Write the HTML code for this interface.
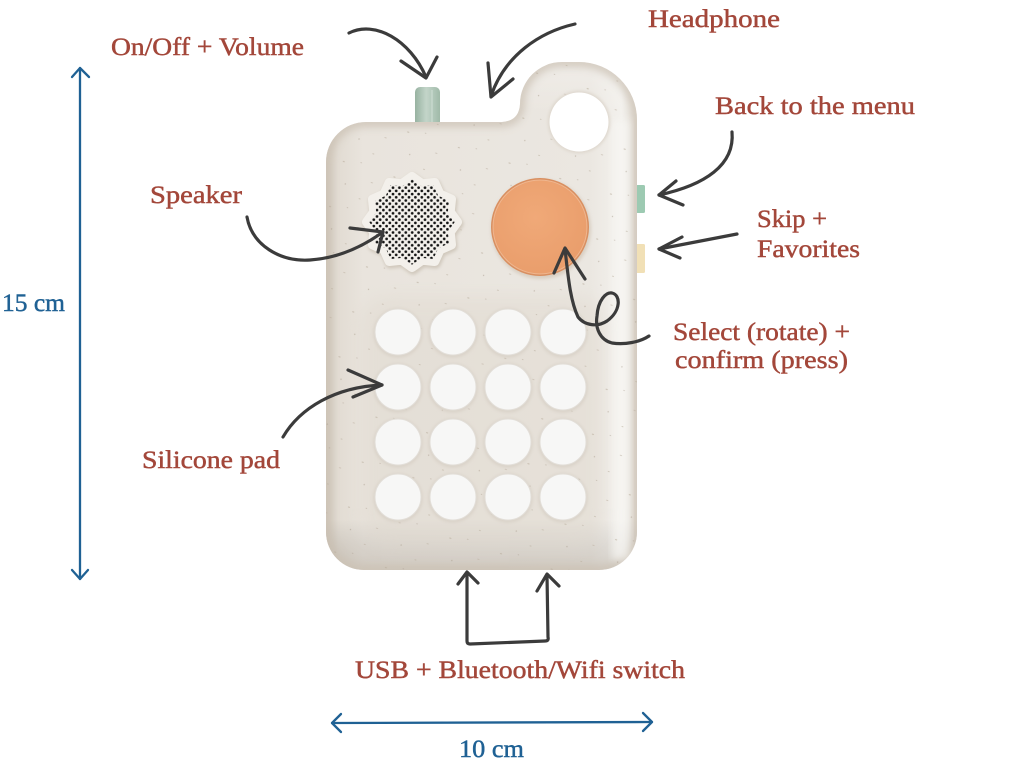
<!DOCTYPE html>
<html>
<head>
<meta charset="utf-8">
<style>
  html,body{margin:0;padding:0;background:#fff;}
  svg{display:block;}
  .lbl{font-family:"Liberation Serif",serif;font-size:25px;fill:#a3473a;stroke:#a3473a;stroke-width:0.45px;}
  .dim{font-family:"Liberation Serif",serif;font-size:25px;fill:#1f6194;stroke:#1f6194;stroke-width:0.45px;}
  .arr{fill:none;stroke:#3b3b3b;stroke-width:3.2;stroke-linecap:round;stroke-linejoin:round;}
  .blue{fill:none;stroke:#1f6194;stroke-width:2.3;stroke-linecap:round;stroke-linejoin:round;}
</style>
</head>
<body>
<svg width="1024" height="765" viewBox="0 0 1024 765" xmlns="http://www.w3.org/2000/svg">
<defs>
  <linearGradient id="bodyH" x1="326" y1="0" x2="637" y2="0" gradientUnits="userSpaceOnUse">
    <stop offset="0" stop-color="#d3cabe"/>
    <stop offset="0.04" stop-color="#e2dcd3"/>
    <stop offset="0.12" stop-color="#e9e4dd"/>
    <stop offset="0.85" stop-color="#ebe7e1"/>
    <stop offset="0.95" stop-color="#f3f1ed"/>
    <stop offset="1" stop-color="#e6e1da"/>
  </linearGradient>
  <linearGradient id="bodyV" x1="0" y1="62" x2="0" y2="570" gradientUnits="userSpaceOnUse">
    <stop offset="0" stop-color="#ffffff" stop-opacity="0.25"/>
    <stop offset="0.1" stop-color="#ffffff" stop-opacity="0"/>
    <stop offset="0.9" stop-color="#000000" stop-opacity="0"/>
    <stop offset="1" stop-color="#6b5a45" stop-opacity="0.18"/>
  </linearGradient>
  <linearGradient id="knobG" x1="0" y1="0" x2="1" y2="0">
    <stop offset="0" stop-color="#97b2a1"/>
    <stop offset="0.45" stop-color="#c3d5c9"/>
    <stop offset="1" stop-color="#a0baa9"/>
  </linearGradient>
  <radialGradient id="orangeG" cx="0.45" cy="0.4" r="0.65">
    <stop offset="0" stop-color="#f0a978"/>
    <stop offset="1" stop-color="#e99d6b"/>
  </radialGradient>
  <clipPath id="bodyClip">
    <path d="M366,122 L502,122 Q519,121 520,104 A42,42 0 0 1 562,62 L579,62 A58,58 0 0 1 637,120 L637,532 A38,38 0 0 1 599,570 L364,570 A38,38 0 0 1 326,532 L326,162 A40,40 0 0 1 366,122 Z"/>
  </clipPath>
  <pattern id="speck" width="53" height="47" patternUnits="userSpaceOnUse" patternTransform="rotate(17)">
    <ellipse cx="5" cy="7" rx="1.2" ry="0.6" fill="#b9ad9d" opacity="0.6"/>
    <ellipse cx="22" cy="3" rx="0.8" ry="0.5" fill="#a99c8b" opacity="0.5"/>
    <ellipse cx="38" cy="19" rx="1.3" ry="0.5" fill="#bdb1a2" opacity="0.6"/>
    <ellipse cx="13" cy="28" rx="0.7" ry="0.7" fill="#a39685" opacity="0.5"/>
    <ellipse cx="31" cy="38" rx="1.1" ry="0.5" fill="#b7ab9b" opacity="0.6"/>
  </pattern>
  <pattern id="dots" width="6.4" height="6.4" patternUnits="userSpaceOnUse" x="1" y="0.5">
    <circle cx="1.6" cy="1.6" r="1.35" fill="#141414"/>
    <circle cx="4.8" cy="4.8" r="1.35" fill="#141414"/>
  </pattern>
  <clipPath id="starClip">
    <polygon transform="translate(412,222) scale(0.95) translate(-412,-222)" points="457,222 449.7,232.1 451,244.5 439.6,249.6 434.5,261 422.1,259.7 412,267 401.9,259.7 389.5,261 384.4,249.6 373,244.5 374.3,232.1 367,222 374.3,211.9 373,199.5 384.4,194.4 389.5,183 401.9,184.3 412,177 422.1,184.3 434.5,183 439.6,194.4 451,199.5 449.7,211.9"/>
  </clipPath>
  <filter id="blur4" x="-20%" y="-20%" width="140%" height="140%"><feGaussianBlur stdDeviation="4"/></filter>
  <filter id="blur2" x="-20%" y="-20%" width="140%" height="140%"><feGaussianBlur stdDeviation="1.5"/></filter>
  <filter id="blur8" x="-20%" y="-20%" width="140%" height="140%"><feGaussianBlur stdDeviation="8"/></filter>
</defs>

<rect x="0" y="0" width="1024" height="765" fill="#ffffff"/>

<!-- green volume knob -->
<rect x="415" y="87" width="25" height="40" rx="5" fill="url(#knobG)"/>
<line x1="422" y1="90" x2="422" y2="122" stroke="#b2c8ba" stroke-width="1"/>
<line x1="432" y1="90" x2="432" y2="122" stroke="#d0dfd5" stroke-width="1"/>

<!-- side buttons -->
<rect x="636" y="185" width="9" height="28" rx="1.5" fill="#9dcab2"/>
<rect x="636" y="244" width="9" height="29" rx="1.5" fill="#f1e0b6"/>

<!-- device body -->
<g clip-path="url(#bodyClip)">
  <rect x="320" y="55" width="330" height="520" fill="url(#bodyH)"/>
  <rect x="320" y="55" width="330" height="520" fill="url(#bodyV)"/>
  <path d="M366,122 L502,122 Q519,121 520,104 A42,42 0 0 1 562,62 L579,62 A58,58 0 0 1 637,120 L637,532 A38,38 0 0 1 599,570 L364,570 A38,38 0 0 1 326,532 L326,162 A40,40 0 0 1 366,122 Z" fill="none" stroke="#cbc1b4" stroke-width="10" filter="url(#blur4)" opacity="0.8"/>
  <rect x="612" y="120" width="18" height="440" fill="#f7f6f3" opacity="0.7" filter="url(#blur4)"/>
  <rect x="360" y="296" width="245" height="250" rx="30" fill="#e0d9cf" opacity="0.45" filter="url(#blur8)"/>
  <rect x="320" y="55" width="330" height="520" fill="url(#speck)"/>
</g>

<!-- hole -->
<circle cx="579" cy="122" r="31" fill="#ddd6cc" filter="url(#blur2)"/>
<circle cx="579" cy="122" r="29.5" fill="#ffffff"/>

<!-- speaker grille plate -->
<polygon transform="translate(1,2)" points="457,222 449.7,232.1 451,244.5 439.6,249.6 434.5,261 422.1,259.7 412,267 401.9,259.7 389.5,261 384.4,249.6 373,244.5 374.3,232.1 367,222 374.3,211.9 373,199.5 384.4,194.4 389.5,183 401.9,184.3 412,177 422.1,184.3 434.5,183 439.6,194.4 451,199.5 449.7,211.9" fill="#d0c8bc" stroke="#d0c8bc" stroke-width="11" stroke-linejoin="round" filter="url(#blur2)"/>
<polygon points="457,222 449.7,232.1 451,244.5 439.6,249.6 434.5,261 422.1,259.7 412,267 401.9,259.7 389.5,261 384.4,249.6 373,244.5 374.3,232.1 367,222 374.3,211.9 373,199.5 384.4,194.4 389.5,183 401.9,184.3 412,177 422.1,184.3 434.5,183 439.6,194.4 451,199.5 449.7,211.9" fill="#f3f0eb" stroke="#f3f0eb" stroke-width="10" stroke-linejoin="round"/>
<rect x="360" y="170" width="105" height="105" fill="url(#dots)" clip-path="url(#starClip)"/>

<!-- orange knob -->
<circle cx="541" cy="229" r="50" fill="#cdbfae" opacity="0.6" filter="url(#blur2)"/>
<circle cx="540" cy="227" r="49" fill="#d98f60"/>
<circle cx="540" cy="227" r="47" fill="url(#orangeG)"/>
<circle cx="540" cy="227" r="47" fill="none" stroke="#f3c3a1" stroke-width="1" opacity="0.7"/>

<!-- silicone pad buttons -->
<g>
  <g fill="#d9d2c8" filter="url(#blur2)">
    <circle cx="398" cy="333" r="24.5"/><circle cx="453" cy="333" r="24.5"/><circle cx="508" cy="333" r="24.5"/><circle cx="563" cy="333" r="24.5"/>
    <circle cx="398" cy="388" r="24.5"/><circle cx="453" cy="388" r="24.5"/><circle cx="508" cy="388" r="24.5"/><circle cx="563" cy="388" r="24.5"/>
    <circle cx="398" cy="443" r="24.5"/><circle cx="453" cy="443" r="24.5"/><circle cx="508" cy="443" r="24.5"/><circle cx="563" cy="443" r="24.5"/>
    <circle cx="398" cy="498" r="24.5"/><circle cx="453" cy="498" r="24.5"/><circle cx="508" cy="498" r="24.5"/><circle cx="563" cy="498" r="24.5"/>
  </g>
  <g fill="#f7f7f6" stroke="#e2ded8" stroke-width="1">
    <circle cx="398" cy="332" r="23"/><circle cx="453" cy="332" r="23"/><circle cx="508" cy="332" r="23"/><circle cx="563" cy="332" r="23"/>
    <circle cx="398" cy="387" r="23"/><circle cx="453" cy="387" r="23"/><circle cx="508" cy="387" r="23"/><circle cx="563" cy="387" r="23"/>
    <circle cx="398" cy="442" r="23"/><circle cx="453" cy="442" r="23"/><circle cx="508" cy="442" r="23"/><circle cx="563" cy="442" r="23"/>
    <circle cx="398" cy="497" r="23"/><circle cx="453" cy="497" r="23"/><circle cx="508" cy="497" r="23"/><circle cx="563" cy="497" r="23"/>
  </g>
</g>

<!-- hand-drawn arrows -->
<path class="arr" d="M349,33 C375,20 410,40 426,77"/>
<path class="arr" d="M401,61 L426,78 L437,57"/>

<path class="arr" d="M575,24 C540,32 505,55 491,96"/>
<path class="arr" d="M488,63 L491,97 L513,79"/>

<path class="arr" d="M732,132 C735,165 705,185 659,195"/>
<path class="arr" d="M676,181 L659,195 L683,205"/>

<path class="arr" d="M737,234 L659,249"/>
<path class="arr" d="M682,237 L659,249 L680,258"/>

<path class="arr" d="M649,336 C640,342 625,345 612,343 C600,340 595,328 597,316 C598,300 606,292 612,293 C621,295 621,311 607,321 C598,327 585,326 578,317 C570,300 568,275 565,249"/>
<path class="arr" d="M554,273 L565,248 L585,279"/>

<path class="arr" d="M247,217 C252,245 280,262 310,260 C340,258 365,245 383,232"/>
<path class="arr" d="M350,228 L383,232 L378,252"/>

<path class="arr" d="M283,437 C300,408 335,387 382,385"/>
<path class="arr" d="M348,370 L382,385 L353,397"/>

<path class="arr" d="M467,573 L467,641 Q467,644 470,644 L545,641 Q549,641 548,637 L547,575"/>
<path class="arr" d="M458,584 L467,572 L478,583"/>
<path class="arr" d="M537,591 L547,574 L559,586"/>

<!-- dimension arrows -->
<path class="blue" d="M80,68 L80,579"/>
<path class="blue" d="M72,77 L80,68 L89,77"/>
<path class="blue" d="M72,570 L80,579 L88,570"/>
<path class="blue" d="M332,723 L652,722"/>
<path class="blue" d="M341,714 L332,723 L341,732"/>
<path class="blue" d="M643,713 L652,722 L643,731"/>

<!-- labels -->
<text class="lbl" x="111" y="55" textLength="193" lengthAdjust="spacingAndGlyphs">On/Off + Volume</text>
<text class="lbl" x="648" y="27" textLength="132" lengthAdjust="spacingAndGlyphs">Headphone</text>
<text class="lbl" x="715" y="114" textLength="200" lengthAdjust="spacingAndGlyphs">Back to the menu</text>
<text class="lbl" x="150" y="203" textLength="92" lengthAdjust="spacingAndGlyphs">Speaker</text>
<text class="lbl" x="757" y="227" textLength="70" lengthAdjust="spacingAndGlyphs">Skip +</text>
<text class="lbl" x="757" y="257" textLength="103" lengthAdjust="spacingAndGlyphs">Favorites</text>
<text class="lbl" x="673" y="340" textLength="177" lengthAdjust="spacingAndGlyphs">Select (rotate) +</text>
<text class="lbl" x="675" y="368" textLength="173" lengthAdjust="spacingAndGlyphs">confirm (press)</text>
<text class="lbl" x="142" y="468" textLength="138" lengthAdjust="spacingAndGlyphs">Silicone pad</text>
<text class="lbl" x="355" y="678" textLength="330" lengthAdjust="spacingAndGlyphs">USB + Bluetooth/Wifi switch</text>
<text class="dim" x="2" y="311" textLength="63" lengthAdjust="spacingAndGlyphs">15 cm</text>
<text class="dim" x="459" y="757" textLength="65" lengthAdjust="spacingAndGlyphs">10 cm</text>
</svg>
</body>
</html>
